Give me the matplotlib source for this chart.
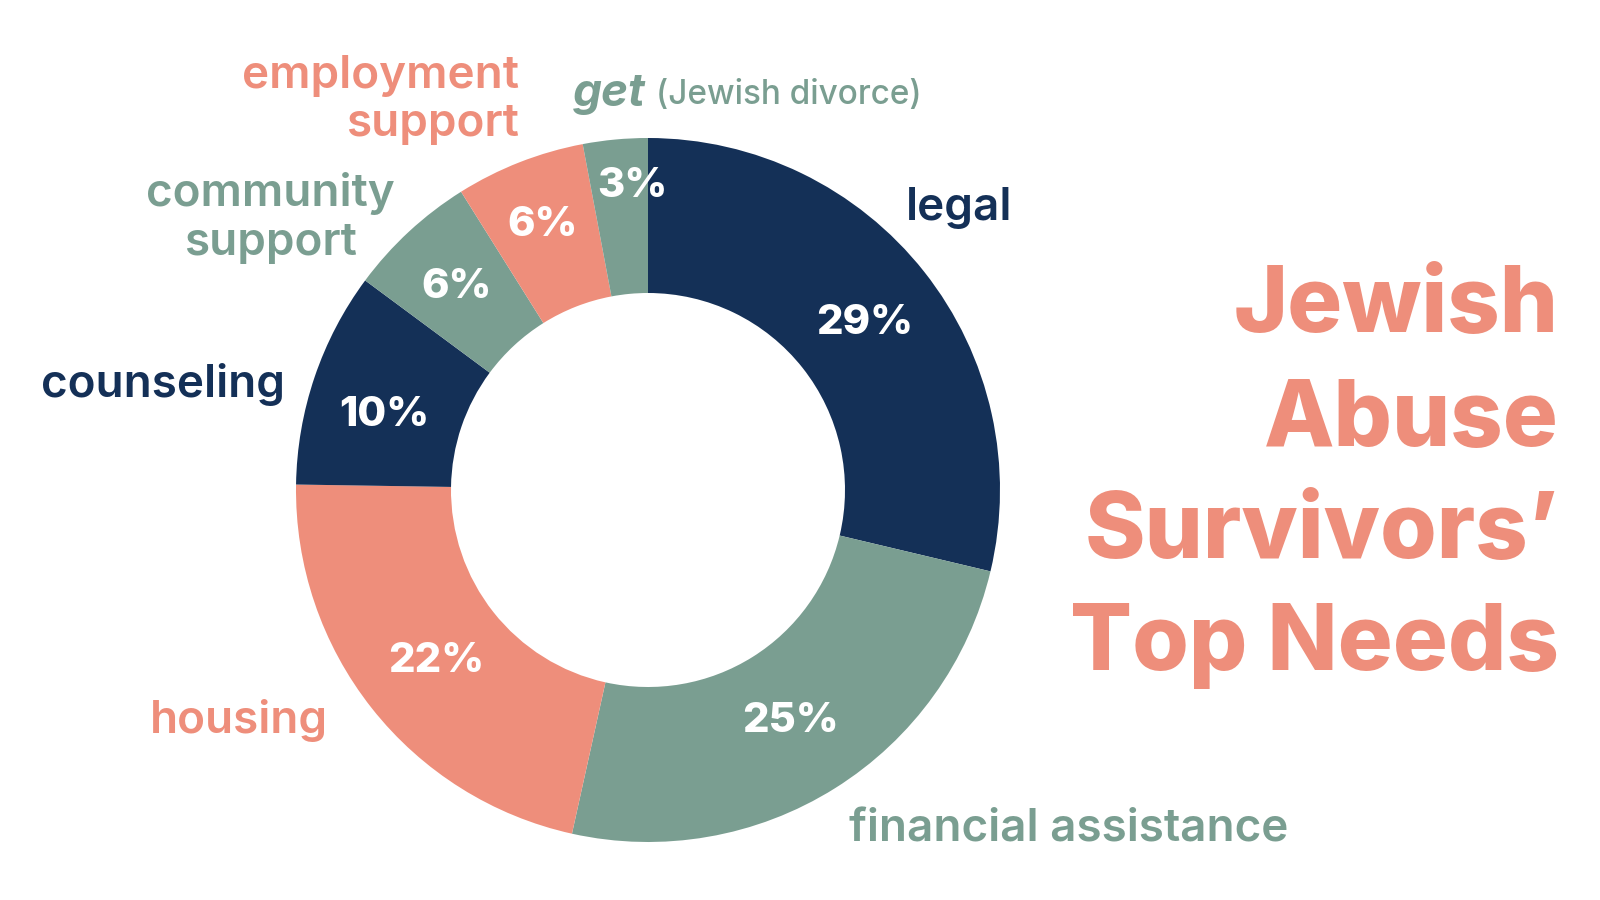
import matplotlib
matplotlib.use("Agg")
from matplotlib import pyplot as plt
import numpy as np

# dados
categorias = ['legal', 'financial assistance', 'housing', 'counseling',
              'community support', 'employment support', 'get']
valores = [29, 25, 22, 10, 6, 6, 3]
rotulos_pct = ['29%', '25%', '22%', '10%', '6%', '6%', '3%']

azul = '#143057'
salmao = '#EE8E7B'
salvia = '#7A9E91'
cores = [azul, salvia, salmao, azul, salvia, salmao, salvia]

plt.rcParams['font.family'] = ['Inter', 'DejaVu Sans']

fig = plt.figure(figsize=(16, 9), dpi=100)
ax = fig.add_axes([0, 0, 1, 1])
ax.set_xlim(0, 1600)
ax.set_ylim(0, 900)
ax.set_aspect('equal')
ax.axis('off')

centro = (648, 410)
raio = 352
largura = 155

fatias, _ = ax.pie(valores, colors=cores, startangle=90, counterclock=False,
                   center=centro, radius=raio,
                   wedgeprops=dict(width=largura, linewidth=0))
ax.set_xlim(0, 1600)
ax.set_ylim(0, 900)

# percentuais dentro do anel (ajustes finos de raio e angulo)
ajuste_raio = [2, -7, -5, 1, 8, 14, 34]
ajuste_ang = [0, 0, 0, 2, 0, 0, -2.5]
for fatia, texto, aj, aa in zip(fatias, rotulos_pct, ajuste_raio, ajuste_ang):
    ang = np.deg2rad((fatia.theta1 + fatia.theta2) / 2 + aa)
    r = raio - largura / 2 + aj
    ax.text(centro[0] + r * np.cos(ang), centro[1] + r * np.sin(ang) - 15,
            texto, color='white', fontsize=30, fontweight='heavy',
            ha='center', va='baseline')

# rotulos das categorias
tam = 33
peso = 'semibold'
ax.text(906, 692, 'legal', color=azul, fontsize=tam, fontweight=peso,
        ha='left', va='center')
ax.text(849, 71, 'financial assistance', color=salvia, fontsize=tam,
        fontweight=peso, ha='left', va='center')
ax.text(150, 179, 'housing', color=salmao, fontsize=tam, fontweight=peso,
        ha='left', va='center')
ax.text(41, 516, 'counseling', color=azul, fontsize=tam, fontweight=peso,
        ha='left', va='center')
ax.text(270, 682, 'community\nsupport', color=salvia, fontsize=tam,
        fontweight=peso, ha='center', va='center', multialignment='center',
        linespacing=1.2)
ax.text(519, 800, 'employment\nsupport', color=salmao, fontsize=tam,
        fontweight=peso, ha='right', va='center', multialignment='right',
        linespacing=1.2)
get = ax.text(573, 806, 'get', color=salvia, fontsize=tam, fontweight='bold',
              style='italic', ha='left', va='center')
ax.annotate('(Jewish divorce)', xy=(1, 0.5), xycoords=get,
            xytext=(7, -1), textcoords='offset points', color=salvia,
            fontsize=24, fontweight='medium', ha='left', va='center')

# titulo
titulo = ['Jewish', 'Abuse', 'Survivors\u2019', 'Top Needs']
ys = [568, 454, 342, 230]
for linha, y in zip(titulo, ys):
    ax.text(1559, y, linha, color=salmao, fontsize=66, fontweight='heavy',
            ha='right', va='baseline')

fig.savefig('out.png', dpi=100, facecolor='white')
